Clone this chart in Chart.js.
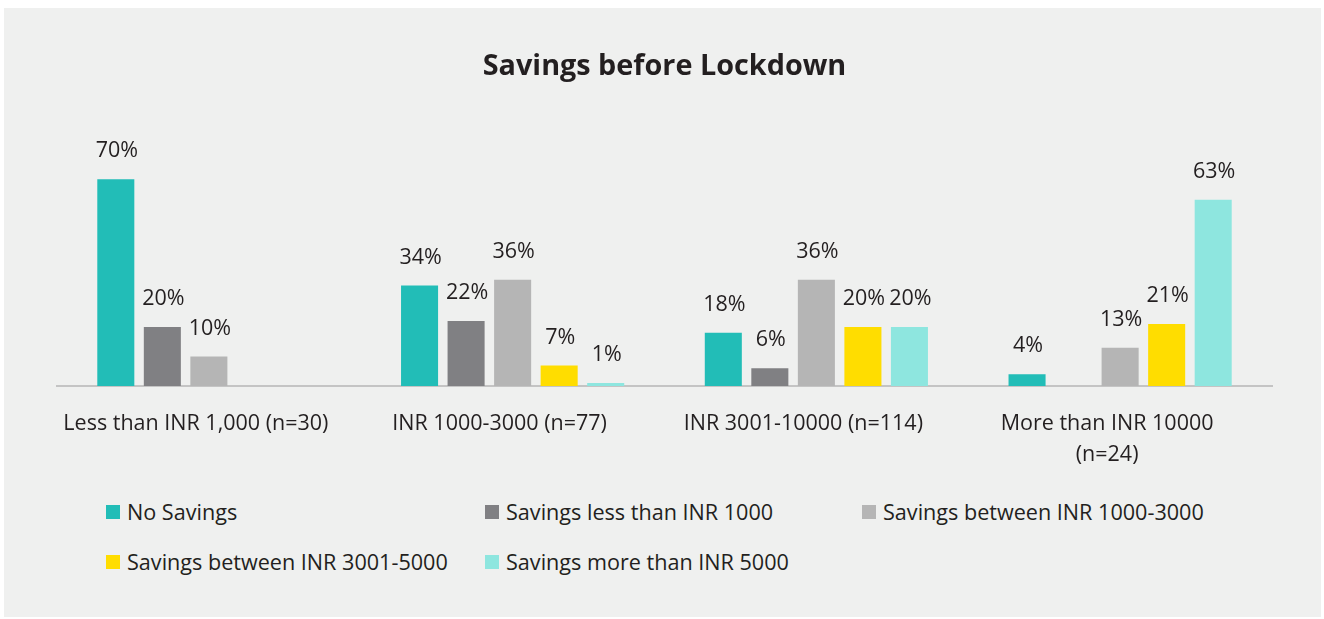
<!DOCTYPE html>
<html>
<head>
<meta charset="utf-8">
<script src="https://cdn.jsdelivr.net/npm/chart.js@4.4.1/dist/chart.umd.min.js"></script>
<style>
  html, body { margin: 0; padding: 0; background: #fff; }
  #panel { position: absolute; left: 4px; top: 8px; width: 1317px; height: 609px; background: #eff0ef; }
  #wrap { position: absolute; left: 0; top: 0; width: 1324px; height: 492px; }
  #legend { position: absolute; left: 106px; top: 497px; width: 1200px; font-family: "Open Sans", sans-serif; font-size: 21.6px; color: #231f20; }
  .item { position: absolute; display: flex; align-items: center; white-space: nowrap; }
  .sw { width: 14px; height: 14px; margin-right: 7px; }
</style>
</head>
<body>
<div id="panel"></div>
<div id="wrap"><canvas id="savingsChart"></canvas></div>
<div id="legend"></div>
<script>
const categories = [
  'Less than INR 1,000 (n=30)',
  'INR 1000-3000 (n=77)',
  'INR 3001-10000 (n=114)',
  ['More than INR 10000', '(n=24)']
];
const seriesNames = [
  'No Savings',
  'Savings less than INR 1000',
  'Savings between INR 1000-3000',
  'Savings between INR 3001-5000',
  'Savings more than INR 5000'
];
// null = no bar / no label
const noSavings      = [70, 34, 18, 4];
const lessThan1000   = [20, 22, 6, null];
const between1000    = [10, 36, 36, 13];
const between3001    = [null, 7, 20, 21];
const moreThan5000   = [null, 1, 20, 63];
const seriesColors = ['#22bdb7', '#808083', '#b5b5b5', '#ffdd00', '#8ee6df'];

const textColor = '#231f20';

// etiquetas de valor por cima das barras
const valueLabels = {
  id: 'valueLabels',
  afterDatasetsDraw(chart) {
    const ctx = chart.ctx;
    ctx.save();
    ctx.font = '21.5px "Open Sans", sans-serif';
    ctx.fillStyle = textColor;
    ctx.textAlign = 'center';
    ctx.textBaseline = 'middle';
    chart.data.datasets.forEach((ds, i) => {
      chart.getDatasetMeta(i).data.forEach((bar, j) => {
        const v = ds.data[j];
        if (v === null || v === undefined) return;
        ctx.fillText(v + '%', bar.x + 1, bar.y - 28);
      });
    });
    ctx.restore();
  }
};

const series = [noSavings, lessThan1000, between1000, between3001, moreThan5000];

new Chart(document.getElementById('savingsChart').getContext('2d'), {
  type: 'bar',
  data: {
    labels: categories,
    datasets: series.map((data, i) => ({
      label: seriesNames[i],
      data,
      backgroundColor: seriesColors[i],
      borderWidth: 0,
      barPercentage: 0.796,
      categoryPercentage: 0.766
    }))
  },
  options: {
    responsive: true,
    maintainAspectRatio: false,
    animation: false,
    layout: { padding: { left: 57, right: 52, top: 30, bottom: 0 } },
    plugins: {
      legend: { display: false },
      tooltip: { enabled: false },
      title: {
        display: true,
        text: 'Savings before Lockdown',
        color: textColor,
        font: { family: '"Open Sans", sans-serif', size: 28.8, weight: 'bold' },
        padding: { top: 20, bottom: 65 }
      }
    },
    scales: {
      x: {
        grid: { display: false, drawTicks: false },
        border: { display: true, color: '#c4c4c4', width: 2 },
        ticks: {
          color: textColor,
          font: { family: '"Open Sans", sans-serif', size: 21.5, lineHeight: 1.44 },
          padding: 22,
          labelOffset: -13,
          maxRotation: 0,
          autoSkip: false
        }
      },
      y: { display: false, min: 0, max: 80 }
    }
  },
  plugins: [valueLabels]
});

// legenda em grelha
const legendPos = [[0, 0], [379, 0], [756, 0], [0, 50], [379, 50]];
const legendEl = document.getElementById('legend');
seriesNames.forEach((name, i) => {
  const item = document.createElement('div');
  item.className = 'item';
  item.style.left = legendPos[i][0] + 'px';
  item.style.top = legendPos[i][1] + 'px';
  item.innerHTML = '<span class="sw" style="background:' + seriesColors[i] + '"></span><span>' + name + '</span>';
  legendEl.appendChild(item);
});
</script>
</body>
</html>
